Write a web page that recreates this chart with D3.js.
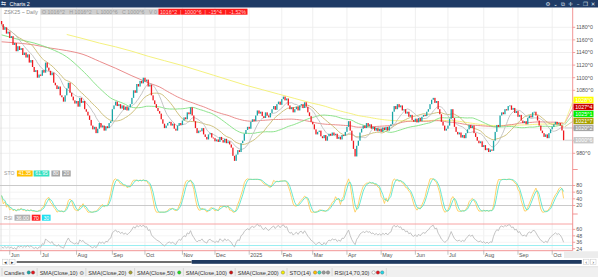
<!DOCTYPE html>
<html><head><meta charset="utf-8">
<script src="https://cdn.jsdelivr.net/npm/d3@7"></script>
<style>
html,body{margin:0;padding:0;background:#fff;overflow:hidden;}
svg{display:block;font-family:"Liberation Sans",Arial,sans-serif;}
</style></head><body>
<svg id="c" width="598" height="277"></svg>
<script>
// ---------------- DATA ----------------
const symbol = "ZSK25 ~ Daily";
const windowTitle = "Charts 2";
const firstDate = "2024-05-24", lastDate = "2025-10-10";
const holidays = ["2024-05-27","2024-06-19","2024-07-04","2024-09-02","2024-11-28","2024-12-25",
  "2025-01-01","2025-01-09","2025-01-20","2025-02-17","2025-04-18","2025-05-26","2025-06-19","2025-07-04","2025-09-01"];
const firstOpen = 1190;
const closes = [
1185,1176,1180,1170,1173,1163,1166,1152,1155,1142,
1150,1144,1147,1136,1140,1132,1137,1124,1128,1117,
1109,1112,1100,1105,1103,1112,1108,1124,1116,1111,
1104,1108,1092,1088,1082,1086,1072,1069,1062,1072,
1083,1092,1076,1070,1064,1059,1063,1054,1068,1060,
1063,1050,1046,1040,1033,1024,1018,1022,1012,1019,
1028,1021,1024,1016,1023,1020,1028,1031,1050,1056,
1062,1055,1058,1051,1056,1049,1054,1048,1053,1058,
1068,1080,1076,1090,1086,1095,1091,1100,1094,1097,
1086,1089,1072,1064,1058,1052,1047,1043,1034,1027,
1020,1024,1028,1030,1024,1027,1019,1016,1024,1028,
1025,1032,1037,1034,1045,1042,1053,1040,1031,1020,
1012,1016,1015,1020,1010,1006,1002,1010,1012,1005,
1004,999,1002,998,1006,1001,997,1003,996,999,
994,989,976,968,978,985,982,996,1000,1011,
1017,1022,1019,1030,1034,1031,1040,1048,1043,1046,
1039,1036,1045,1040,1037,1044,1050,1055,1049,1058,
1062,1057,1066,1070,1064,1067,1056,1050,1053,1045,
1050,1054,1048,1056,1058,1052,1061,1054,1045,1039,
1030,1026,1018,1010,1014,1016,1007,1004,1009,1000,
1007,1011,1008,1013,1009,1011,1003,1006,1002,1009,
1008,1014,1022,1031,1016,1000,987,975,992,1000,
1013,1019,1024,1020,1028,1023,1026,1019,1022,1016,
1020,1015,1019,1014,1021,1017,1022,1016,1023,1026,
1046,1055,1050,1058,1053,1056,1048,1050,1043,1046,
1038,1041,1033,1030,1035,1029,1036,1031,1038,1041,
1039,1046,1050,1058,1065,1068,1060,1063,1050,1042,
1030,1024,1016,1019,1024,1035,1050,1036,1022,1014,
1010,1013,1005,1009,1004,1012,1018,1025,1020,1024,
1012,1006,1000,996,999,990,993,985,988,982,
986,984,1000,1014,1025,1022,1040,1045,1042,1050,
1048,1055,1056,1049,1052,1044,1047,1038,1041,1032,
1028,1031,1026,1036,1040,1037,1045,1046,1040,1032,
1024,1016,1012,1006,1010,1004,1012,1018,1022,1026,
1030,1026,1028,1024,1016.25,1000.75
];
// long moving averages before their window is filled, one value per 10 bars
const warmupStep = 10;
const sma50Warmup  = [1168,1161,1155,1146,1133];                          // bars 0..40
const sma100Warmup = [1157,1155,1152,1147,1143,1137,1126,1115,1103,1092];  // bars 0..90
const sma200WarmupStart = 40;
const sma200Warmup = [1168.6,1162,1155,1149,1142,1134,1127,1120,1112,1104,1096,1088,1081,1074,1067,1060]; // bars 40..190
const priceTicks = [980,1000,1020,1040,1060,1080,1100,1120,1140,1160,1180];
const stoTicks = [80,60,40,20];
const rsiTicks = [60,48,36,24];
const stoLevels = [80,20];
const rsiLevels = [70,30];
const legendItems = [
  {label:"Candles", dots:["#1aa6a6","#e8141c"]},
  {label:"SMA(Close,10)", gear:true},
  {label:"SMA(Close,20)", dots:["#a8a030"]},
  {label:"SMA(Close,50)", dots:["#22dd22"]},
  {label:"SMA(Close,100)", dots:["#cc1111"]},
  {label:"SMA(Close,200)", dots:["#f5f000"]},
  {label:"STO(14)", dots:["#ffc000","#30e0c0","#9a9a9a","#9a9a9a"]},
  {label:"RSI(14,70,30)", dots:["#ffffff","#e8141c","#20d8e8"]}
];

// ---------------- SETUP ----------------
const svg = d3.select("#c");
const AX = 572.7, TOP = 7.5, XAXIS_Y = 250.7;
const UP = "#1aa6a6", DOWN = "#f0181e";
const C = {sma10:"#bdbdbd", sma20:"#c9bb72", sma50:"#80e080", sma100:"#e88080", sma200:"#f3ef70",
           stoK:"#ffc94a", stoD:"#45e3c6", rsi:"#b5b5b5"};

const hol = new Set(holidays);
const dates = [];
for (let d = new Date(firstDate+"T12:00:00Z"); d <= new Date(lastDate+"T12:00:00Z"); d.setUTCDate(d.getUTCDate()+1)) {
  const wd = d.getUTCDay(), s = d.toISOString().slice(0,10);
  if (wd>0 && wd<6 && !hol.has(s)) dates.push(new Date(d));
}
const N = closes.length;
const bars = closes.map((c,i)=>({i, date:dates[i], o: i? closes[i-1] : firstOpen, c}));

const x = d3.scaleLinear().domain([0, N-1]).range([1.6, 563.6]);
const y = d3.scaleLinear().domain([980,1180]).range([153.3,27.3]);
const ySto = d3.scaleLinear().domain([20,80]).range([205.5,185.5]);
const yRsi = d3.scaleLinear().domain([30,70]).range([245.5,224]);

function fmt(v){ const s=v<0?"-":""; v=Math.abs(v); let w=Math.floor(v), e=Math.round((v-w)*8); if(e===8){w++;e=0;} return s+w+"^"+e; }
const mean = a => d3.mean(a);
const smaPartial = n => closes.map((_,i)=>({i, v: mean(closes.slice(Math.max(0,i-n+1), i+1))}));
function smaLong(n, warm, warmStart){
  const pts = warm.map((v,k)=>({i: warmStart + k*warmupStep, v}));
  for (let i=n-1;i<N;i++) pts.push({i, v: mean(closes.slice(i-n+1,i+1))});
  return pts;
}
const sma10 = smaPartial(10), sma20 = smaPartial(20);
const sma50 = smaLong(50, sma50Warmup, 0), sma100 = smaLong(100, sma100Warmup, 0), sma200 = smaLong(200, sma200Warmup, sma200WarmupStart);

const fastK = closes.map((c,i)=>{ const w=closes.slice(Math.max(0,i-13),i+1); const lo=d3.min(w), hi=d3.max(w); return hi>lo? 100*(c-lo)/(hi-lo) : 50; });
const sm3 = a => a.map((_,i)=>mean(a.slice(Math.max(0,i-2),i+1)));
const stoK = sm3(fastK), stoD = sm3(stoK);
const ch = closes.map((c,i)=> i? c-closes[i-1] : 0);
let ag = mean(ch.slice(1,15).map(v=>Math.max(v,0))), al = mean(ch.slice(1,15).map(v=>Math.max(-v,0)));
const rsi = closes.map((c,i)=>{ if(i>0){ ag=(ag*13+Math.max(ch[i],0))/14; al=(al*13+Math.max(-ch[i],0))/14; } return al===0?100:100-100/(1+ag/al); });

// ---------------- DRAW ----------------
const g = svg.append("g");
const monthStarts = bars.filter((b,i)=> i>0 && b.date.getUTCMonth() !== bars[i-1].date.getUTCMonth());
g.selectAll("line.vg").data(monthStarts).join("line").attr("x1",d=>x(d.i)).attr("x2",d=>x(d.i))
  .attr("y1",TOP).attr("y2",XAXIS_Y).attr("stroke","#ebebeb").attr("stroke-width",0.8);
g.selectAll("line.hg").data(priceTicks).join("line").attr("x1",0).attr("x2",AX).attr("y1",d=>y(d)).attr("y2",d=>y(d))
  .attr("stroke","#ececec").attr("stroke-width",0.8);
g.selectAll("line.sg").data(stoTicks.filter(t=>!stoLevels.includes(t))).join("line").attr("x1",0).attr("x2",AX)
  .attr("y1",d=>ySto(d)).attr("y2",d=>ySto(d)).attr("stroke","#f0f0f0").attr("stroke-width",0.8);
g.selectAll("line.rg").data(rsiTicks).join("line").attr("x1",0).attr("x2",AX)
  .attr("y1",d=>yRsi(d)).attr("y2",d=>yRsi(d)).attr("stroke","#f3f3f3").attr("stroke-width",0.8);
g.append("line").attr("x1",1).attr("x2",1).attr("y1",TOP).attr("y2",XAXIS_Y).attr("stroke","#d8d8d8").attr("stroke-width",0.8);

const ln = d3.line().x(d=>x(d.i)).y(d=>y(d.v)).curve(d3.curveMonotoneX);
[[sma200,C.sma200],[sma100,C.sma100],[sma50,C.sma50],[sma20,C.sma20],[sma10,C.sma10]].forEach(([d,c])=>{
  g.append("path").datum(d).attr("d",ln).attr("fill","none").attr("stroke",c).attr("stroke-width",0.9);
});
const bw = 1.3;
g.selectAll("rect.cd").data(bars).join("rect")
  .attr("x",d=>x(d.i)-bw/2).attr("width",bw)
  .attr("y",d=>y(Math.max(d.o,d.c))).attr("height",d=>Math.max(0.9, Math.abs(y(d.o)-y(d.c))))
  .attr("fill",d=>d.c>=d.o?UP:DOWN);

g.selectAll("line.sl").data(stoLevels).join("line").attr("x1",0).attr("x2",AX).attr("y1",d=>ySto(d)).attr("y2",d=>ySto(d))
  .attr("stroke","#c4c4c4").attr("stroke-width",0.9);
const lnS = d3.line().x((d,i)=>x(i)).y(d=>ySto(d));
g.append("path").datum(stoK).attr("d",lnS).attr("fill","none").attr("stroke",C.stoK).attr("stroke-width",0.8);
g.append("path").datum(stoD).attr("d",lnS).attr("fill","none").attr("stroke",C.stoD).attr("stroke-width",0.8);
g.selectAll("line.rl").data(rsiLevels).join("line").attr("x1",0).attr("x2",AX).attr("y1",d=>yRsi(d)).attr("y2",d=>yRsi(d))
  .attr("stroke",(d,i)=>i?"#8fecef":"#f79a9a").attr("stroke-width",0.9);
const lnR = d3.line().x((d,i)=>x(i)).y(d=>yRsi(d));
g.append("path").datum(rsi).attr("d",lnR).attr("fill","none").attr("stroke",C.rsi).attr("stroke-width",0.8);

g.append("line").attr("x1",AX).attr("x2",AX).attr("y1",TOP).attr("y2",XAXIS_Y).attr("stroke","#f08a8a").attr("stroke-width",0.9);
g.append("line").attr("x1",0).attr("x2",AX).attr("y1",XAXIS_Y).attr("y2",XAXIS_Y).attr("stroke","#f08a8a").attr("stroke-width",0.9);
[169.5,214].forEach(v=>g.append("line").attr("x1",AX).attr("x2",AX+5).attr("y1",v).attr("y2",v).attr("stroke","#f08a8a").attr("stroke-width",0.9));

const mf = d3.utcFormat("%b"), yf = d3.utcFormat("%Y");
const mt = g.selectAll("g.mt").data(monthStarts).join("g").attr("transform",d=>`translate(${x(d.i)},0)`);
mt.append("line").attr("y1",XAXIS_Y).attr("y2",XAXIS_Y+4).attr("stroke","#999").attr("stroke-width",0.6);
mt.append("text").attr("x",1).attr("y",XAXIS_Y+6.6).attr("font-size",5.4).attr("fill","#555")
  .text(d=> d.date.getUTCMonth()===0 ? yf(d.date) : mf(d.date));
g.append("rect").attr("x",564).attr("y",XAXIS_Y+0.6).attr("width",34).attr("height",7).attr("fill","#ececec");

const last = bars[N-1];
const lastOf = a => a[a.length-1].v;
let tags = [
  {v:lastOf(sma200), bg:"#ffff00", fg:"#ffffff", c:C.sma200},
  {v:lastOf(sma100), bg:"#cc0000", fg:"#ffffff", c:C.sma100},
  {v:lastOf(sma50),  bg:"#00f000", fg:"#ffffff", c:C.sma50},
  {v:lastOf(sma20),  bg:"#a8a000", fg:"#ffffff", c:C.sma20},
  {v:lastOf(sma10),  bg:"#a6a6a6", fg:"#ffffff", c:C.sma10},
  {v:last.c,         bg:"#c9c9c9", fg:"#ffffff", c:"#c9c9c9"}
].sort((a,b)=>a.v-b.v);
let prev = Infinity;
tags.forEach(t=>{ t.y = Math.min(y(t.v), prev-7); prev = t.y; });
const tagYs = tags.map(t=>t.y);
const visTicks = priceTicks.filter(t=> tagYs.every(ty=>Math.abs(ty-y(t))>4.5));
g.selectAll("line.pt").data(priceTicks).join("line").attr("x1",AX).attr("x2",AX+2.5).attr("y1",d=>y(d)).attr("y2",d=>y(d)).attr("stroke","#f08a8a").attr("stroke-width",0.8);
g.selectAll("text.pt").data(visTicks).join("text").attr("x",AX+3.5).attr("y",d=>y(d)+1.9).attr("font-size",5.3).attr("fill","#555").text(d=>fmt(d));
g.selectAll("text.st").data(stoTicks).join("text").attr("x",AX+3.5).attr("y",d=>ySto(d)+1.9).attr("font-size",5.3).attr("fill","#555").text(d=>d);
g.selectAll("line.st").data(stoTicks).join("line").attr("x1",AX).attr("x2",AX+2.5).attr("y1",d=>ySto(d)).attr("y2",d=>ySto(d)).attr("stroke","#f08a8a").attr("stroke-width",0.8);
g.selectAll("text.rt").data(rsiTicks).join("text").attr("x",AX+3.5).attr("y",d=>yRsi(d)+1.9).attr("font-size",5.3).attr("fill","#555").text(d=>d);
g.selectAll("line.rt").data(rsiTicks).join("line").attr("x1",AX).attr("x2",AX+2.5).attr("y1",d=>yRsi(d)).attr("y2",d=>yRsi(d)).attr("stroke","#f08a8a").attr("stroke-width",0.8);
tags.forEach(t=>{
  g.append("line").attr("x1",x(N-1)+1).attr("x2",AX+0.8).attr("y1",y(t.v)).attr("y2",t.y).attr("stroke",t.c).attr("stroke-width",0.7);
  g.append("rect").attr("x",AX+0.8).attr("y",t.y-3.2).attr("width",20).attr("height",6.4).attr("fill",t.bg);
  g.append("text").attr("x",AX+2.6).attr("y",t.y+1.9).attr("font-size",5.3).attr("fill",t.fg).text(fmt(t.v));
});

// ---------------- CHROME ----------------
svg.append("rect").attr("x",0).attr("y",0).attr("width",598).attr("height",TOP).attr("fill","#1f3b66");
svg.append("text").attr("x",1).attr("y",5.6).attr("font-size",5.5).attr("fill","#cfd8e6").text("⇆");
svg.append("text").attr("x",9.5).attr("y",5.5).attr("font-size",5.4).attr("fill","#ffffff").text(windowTitle);
["⚙","⌄","⧉","✛","–","❐","✕"].forEach((s,k)=>svg.append("text").attr("x",548+k*7.5).attr("y",5.6).attr("font-size",5.5)
  .attr("text-anchor","middle").attr("font-family","DejaVu Sans").attr("fill","#dfe6f0").text(s));

function boxRow(x0, yc, items, fs){
  let cx = x0;
  items.forEach(it=>{
    if (it.plain){ const t=svg.append("text").attr("x",cx).attr("y",yc+fs*0.36).attr("font-size",fs).attr("fill",it.fg).text(it.text);
      cx += t.node().getComputedTextLength()+ (it.gap||2); return; }
    const gg = svg.append("g");
    const r = gg.append("rect").attr("y",yc-3).attr("height",6).attr("fill",it.bg);
    const t = gg.append("text").attr("x",cx+1.5).attr("y",yc+fs*0.36).attr("font-size",fs).attr("fill",it.fg)
      .attr("xml:space","preserve").style("white-space","pre").text(it.text);
    const w = t.node().getComputedTextLength()+3;
    r.attr("x",cx).attr("width",w);
    cx += w + (it.gap===undefined?1:it.gap);
  });
}
const prevC = bars[N-2].c, chg = last.c - prevC, pct = Math.trunc(chg/prevC*10000)/100;
boxRow(4, 11.7, [
  {plain:true, text:symbol, fg:"#8a8a8a", gap:2.5},
  {text:`O ${fmt(last.o)}   H ${fmt(Math.max(last.o,last.c))}   L ${fmt(Math.min(last.o,last.c))}   C ${fmt(last.c)}   V 0`, bg:"#cfcfcf", fg:"#9a9a9a", gap:0},
  {text:`${fmt(prevC)}  |  ${fmt(last.c)}  |  ${fmt(chg)}  |  ${pct.toFixed(2)}%`, bg:"#ff1a1a", fg:"#ffd0d0"}
], 5.3);
boxRow(4, 173.5, [
  {plain:true, text:"STO", fg:"#9a9a9a", gap:2.5},
  {text:stoK[N-1].toFixed(2), bg:"#ffc000", fg:"#fff"},
  {text:stoD[N-1].toFixed(2), bg:"#33e0c0", fg:"#fff", gap:2},
  {text:String(stoLevels[0]), bg:"#a6a6a6", fg:"#fff", gap:2},
  {text:String(stoLevels[1]), bg:"#a6a6a6", fg:"#fff"}
], 5.1);
boxRow(4, 217.7, [
  {plain:true, text:"RSI", fg:"#9a9a9a", gap:2},
  {text:rsi[N-1].toFixed(2), bg:"#b0b0b0", fg:"#fff", gap:1.5},
  {text:String(rsiLevels[0]), bg:"#ff2020", fg:"#fff", gap:1.5},
  {text:String(rsiLevels[1]), bg:"#20e0f0", fg:"#fff"}
], 5.1);

svg.append("rect").attr("x",0).attr("y",258).attr("width",598).attr("height",8.5).attr("fill","#ffffff");
[[2.5,"◂"],[9.5,"▸"],[583.5,"‹"],[590.5,"›"]].forEach(([bx,s])=>{
  svg.append("rect").attr("x",bx).attr("y",259.2).attr("width",5.5).attr("height",5.5).attr("fill","#fff").attr("stroke","#c8c8c8").attr("stroke-width",0.5);
  svg.append("text").attr("x",bx+2.75).attr("y",263.5).attr("text-anchor","middle").attr("font-size",5).attr("font-family","DejaVu Sans").attr("fill","#333").text(s);
});
svg.append("rect").attr("x",16.7).attr("y",261.4).attr("width",175).attr("height",1.2).attr("fill","#111");
svg.append("rect").attr("x",191.7).attr("y",260).attr("width",390).attr("height",3.8).attr("fill","#1f3a60");

svg.append("rect").attr("x",0).attr("y",266.5).attr("width",598).attr("height",10.5).attr("fill","#f0f0f0");
svg.append("line").attr("x1",0).attr("x2",598).attr("y1",266.7).attr("y2",266.7).attr("stroke","#d0d0d0").attr("stroke-width",0.5);
let fx = 4; const fy = 272.5;
svg.append("line").attr("x1",2).attr("x2",2).attr("y1",268).attr("y2",276).attr("stroke","#c8c8c8").attr("stroke-width",0.6);
legendItems.forEach(it=>{
  const t = svg.append("text").attr("x",fx).attr("y",fy+2).attr("font-size",5.6).attr("fill","#333").text(it.label);
  fx += t.node().getComputedTextLength()+2.5;
  if (it.gear){ svg.append("text").attr("x",fx+1.6).attr("y",fy+2).attr("text-anchor","middle").attr("font-size",5.5).attr("font-family","DejaVu Sans").attr("fill","#666").text("⚙"); fx += 4.3; }
  (it.dots||[]).forEach(c=>{ svg.append("circle").attr("cx",fx+1.7).attr("cy",fy).attr("r",1.7).attr("fill",c).attr("stroke","#555").attr("stroke-width",0.35); fx += 4.3; });
  fx += 1.5;
  svg.append("line").attr("x1",fx).attr("x2",fx).attr("y1",268).attr("y2",276).attr("stroke","#c8c8c8").attr("stroke-width",0.6);
  fx += 2.5;
});
</script>
</body></html>
